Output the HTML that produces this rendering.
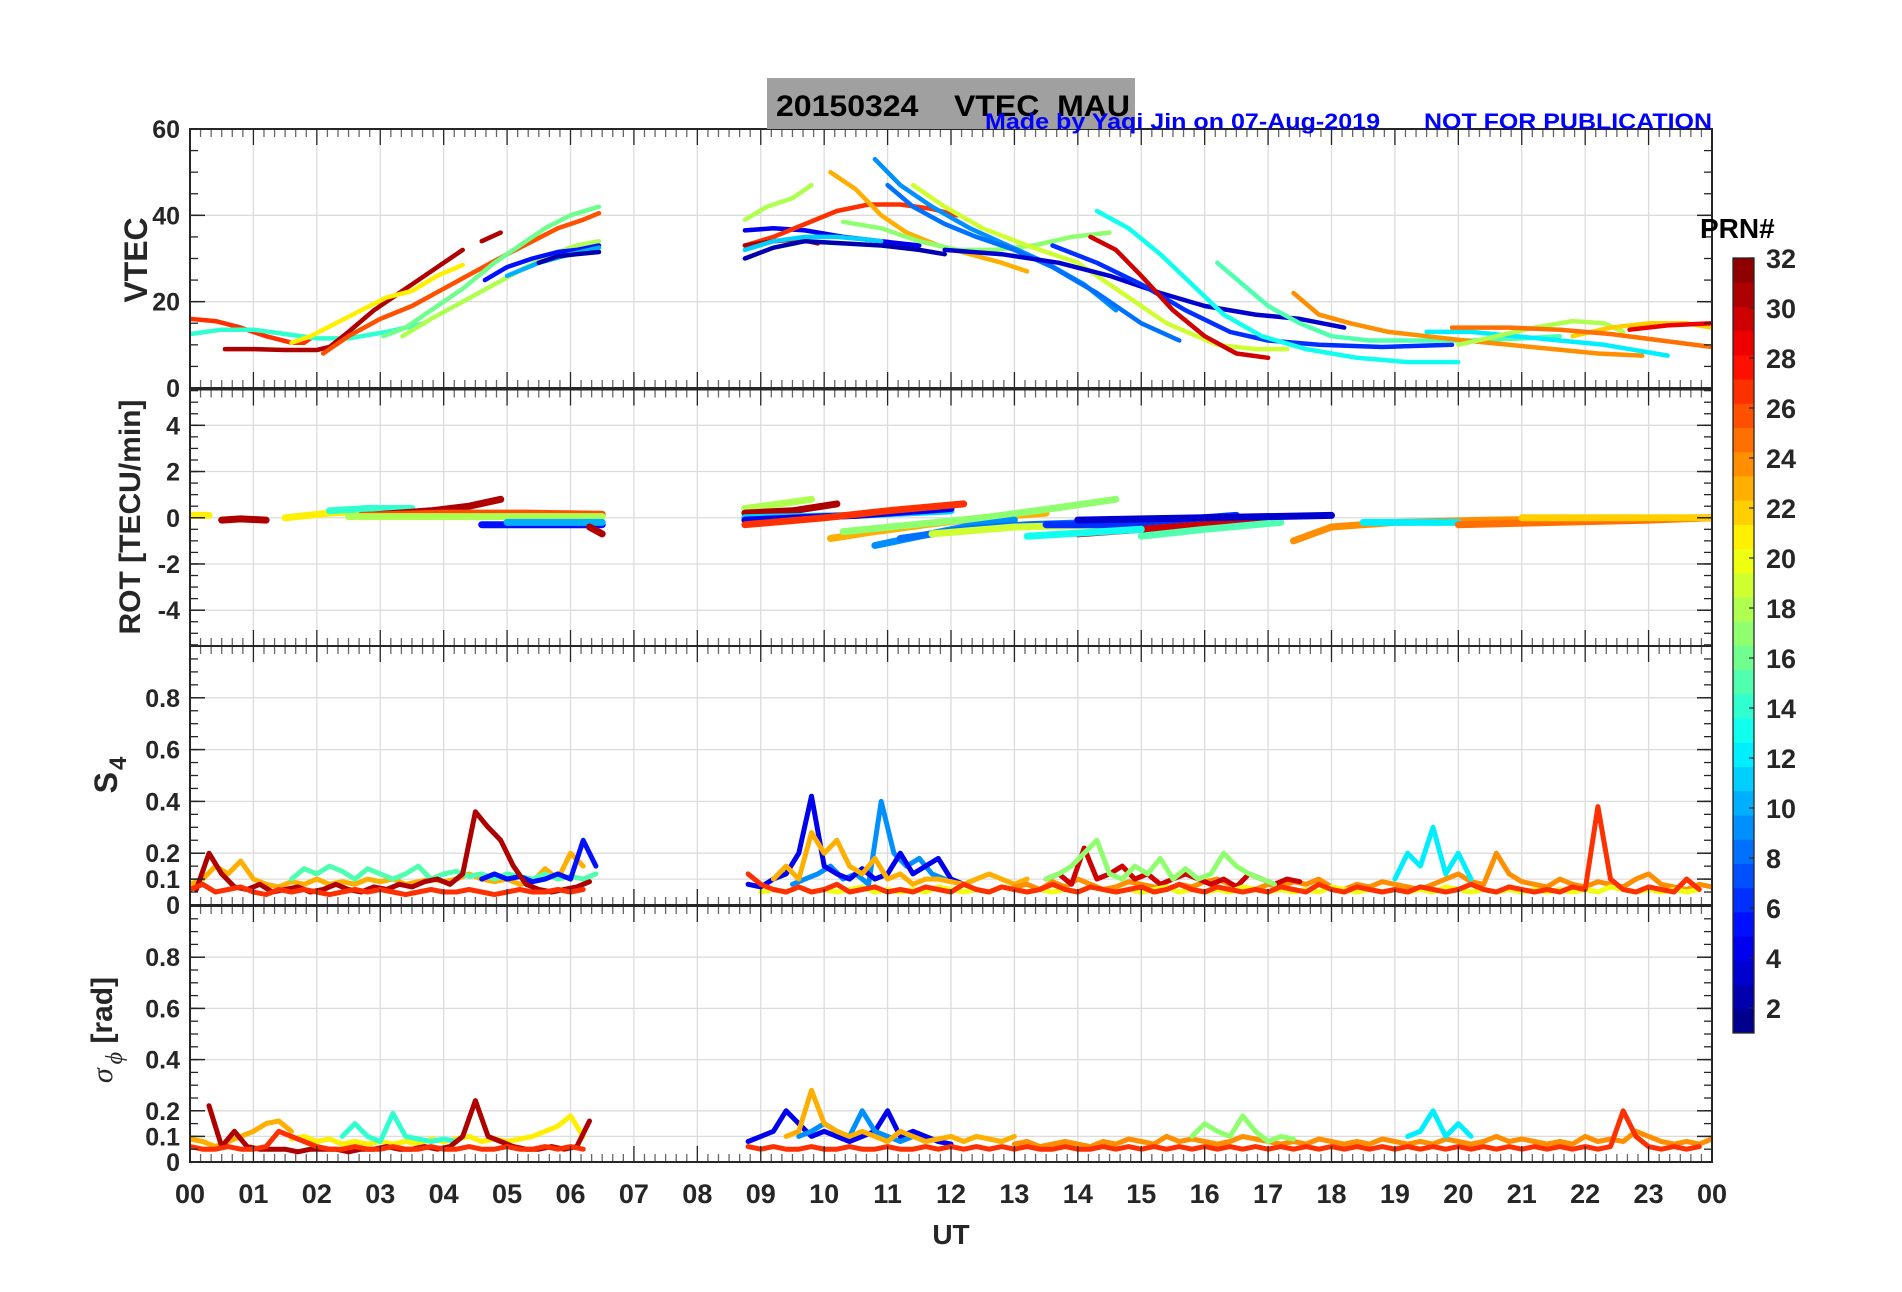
<!DOCTYPE html>
<html><head><meta charset="utf-8">
<style>
html,body{margin:0;padding:0;background:#fff;}
svg{display:block;font-family:"Liberation Sans",Arial,sans-serif;}
</style></head>
<body>
<svg id="chart" width="1902" height="1292" viewBox="0 0 1902 1292" xmlns="http://www.w3.org/2000/svg">
<rect x="0" y="0" width="1902" height="1292" fill="#fff"/>
<g id="grid"></g>
<g id="data"></g>
<g id="axes"></g>
<rect x="767" y="78" width="368" height="51" fill="#a0a0a0"/>
<text x="776" y="116" font-size="30" font-weight="bold" fill="#000" style="white-space:pre" xml:space="preserve" textLength="354" lengthAdjust="spacingAndGlyphs">20150324    VTEC  MAU</text>
<text x="985" y="129" font-size="22" font-weight="bold" fill="#0000ff" textLength="395" lengthAdjust="spacingAndGlyphs">Made by Yaqi Jin on 07-Aug-2019</text>
<text x="1424" y="129" font-size="22" font-weight="bold" fill="#0000ff" textLength="288" lengthAdjust="spacingAndGlyphs">NOT FOR PUBLICATION</text>
<text x="147" y="260" font-size="32" font-weight="bold" fill="#262626" text-anchor="middle" transform="rotate(-90 147 260)">VTEC</text>
<text x="140" y="517" font-size="30" font-weight="bold" fill="#262626" text-anchor="middle" transform="rotate(-90 140 517)">ROT [TECU/min]</text>
<text x="117" y="775" font-size="32" font-weight="bold" fill="#262626" text-anchor="middle" transform="rotate(-90 117 775)">S<tspan font-size="24" dy="9" dx="2">4</tspan></text>
<text x="112" y="1030" font-size="30" font-weight="bold" fill="#262626" text-anchor="middle" transform="rotate(-90 112 1030)"><tspan font-family="Liberation Serif" font-style="italic" font-weight="normal">σ</tspan><tspan font-size="24" dy="10" dx="4" font-family="Liberation Serif" font-style="italic" font-weight="normal">ϕ</tspan><tspan dy="-10"> [rad]</tspan></text>
<text x="951" y="1244" font-size="28" font-weight="bold" fill="#262626" text-anchor="middle">UT</text>
<g id="cbar"></g>
<text x="1700" y="238" font-size="28" font-weight="bold" fill="#000">PRN#</text>
</svg>
<script>
// ---------- data ----------
const vtecPrn = [27,14,31,31,21,26,16,18,5,10,2, 18,4,27,31,11,2,23,17,9,8,19,3,6,30,13,15,24,12,18,22,25,29];
const vtecTimes = [
 [0,0.4,0.8,1.2,1.6,1.8,1.9],
 [0,0.5,1.0,1.5,2.0,2.5,3.1,3.7],
 [0.55,1.0,1.5,2.0,2.2,2.5,2.9,3.3,3.7,4.1,4.3],
 [4.6,4.9],
 [1.6,1.9,2.3,2.7,3.1,3.5,3.9,4.3],
 [2.1,2.5,3.0,3.5,4.0,4.5,5.0,5.4,5.8,6.2,6.45],
 [3.05,3.4,3.9,4.3,4.8,5.2,5.6,6.0,6.45],
 [3.35,3.8,4.3,4.8,5.3,5.7,6.1,6.45],
 [4.65,5.0,5.4,5.8,6.1,6.45],
 [5.0,5.5,6.0,6.45],
 [5.5,5.8,6.1,6.45],
 [8.75,9.1,9.5,9.8],
 [8.75,9.2,9.7,10.3,10.9,11.5],
 [8.75,9.2,9.7,10.2,10.7,11.2,11.7,12.1],
 [8.75,9.2,9.6,9.9],
 [8.75,9.2,9.7,10.2,10.6,10.9],
 [8.75,9.2,9.7,10.3,10.9,11.5,11.9],
 [10.1,10.5,10.9,11.3,11.8,12.3,12.8,13.2],
 [10.3,10.9,11.5,12.1,12.7,13.3,13.9,14.5],
 [10.8,11.2,11.7,12.3,12.9,13.5,14.1,14.6],
 [11.0,11.4,11.9,12.4,13.0,13.6,14.3,15.0,15.6],
 [11.4,11.9,12.5,13.2,14.0,14.7,15.4,16.2,16.8,17.3],
 [11.9,12.8,13.7,14.5,15.3,16.0,16.8,17.5,18.2],
 [13.6,14.3,15.0,15.7,16.4,17.0,17.8,18.8,19.9],
 [14.2,14.6,15.0,15.5,16.0,16.5,17.0],
 [14.3,14.8,15.3,15.8,16.3,16.9,17.6,18.4,19.2,20.0],
 [16.2,16.6,17.0,17.5,18.0,18.6,19.4,20.2,21.0,21.6],
 [17.4,17.8,18.3,18.9,19.5,20.1,20.8,21.5,22.2,22.9],
 [19.5,20.2,20.9,21.6,22.3,22.9,23.3],
 [20.0,20.6,21.2,21.8,22.3,22.6],
 [21.8,22.4,23.0,23.6,24.0],
 [19.9,20.8,21.6,22.4,23.2,24.0],
 [22.7,23.3,24.0]
];
const vtecValues = [
 [16,15.5,14,12,10.5,10.5,11.5],
 [12.5,13.5,13.5,12.5,11.5,11.5,13,15],
 [9,9,8.8,8.8,9.5,13,18,22,26,30,32],
 [34,36],
 [10.5,12,15,18,21,22.5,26,28.5],
 [8,12,16,19,23,27,31,34,37,39,40.5],
 [12,14,19,23,29,33,37,40,42],
 [12,16,20,24,28,31,33,34],
 [25,28,30,31.5,32,33],
 [26,29,31,32.5],
 [29,30.5,31,31.5],
 [39,42,44,47],
 [36.5,37,36.5,35,34,33],
 [33,35,38,41,42.5,42.5,41.5,40],
 [33,34,34.5,33.5],
 [32,34,35,35,34.5,34],
 [30,32.5,34,33.5,33,32,31],
 [50,46,40,36,33,31,29,27],
 [38.5,37,34,32,32,33,35,36],
 [53,47,42,37,33,29,24,18],
 [47,42,38,35,32,28,22,15,11],
 [47,42,37,33,29,22,15,10,9,9],
 [32,31,29,26,22,19,17,16,14],
 [33,29,24,18,13,11,10,9.5,10],
 [35,32,26,18,12,8,7],
 [41,37,31,24,17,12,9,7,6,6],
 [29,24,19,15,12,11,11,11,11.5,12],
 [22,17,15,13,12,11,10,9,8,7.5],
 [13,13,12,11,10,8.5,7.5],
 [10,12,14,15.5,15,13],
 [12,14,15,15,14],
 [14,14,13.5,12.5,11,9.5],
 [13.5,14.5,15]
];
const rotPrn = [21,31,21,14,31,26,18,5,10,31, 18,31,11,4,27,23,17,9,8,19,6,30,13,15,24,12,25,22,3];
const rotTimes = [
 [0,0.3],[0.5,0.8,1.2],[1.5,2.2,3.0],[2.2,2.8,3.5],[2.8,3.8,4.4,4.9],[2.7,4.0,5.3,6.5],[2.5,4.5,6.5],[4.6,5.5,6.5],[5.0,6.5],[6.3,6.5],
 [8.75,9.3,9.8],[8.75,9.5,10.2],[8.75,10.5,12],[8.75,10.5,12],[8.75,10,11,12.2],[10.1,10.8,11.6,12.5,13.5],[10.3,11.4,12.5,13.6,14.6],[10.8,11.5,12.2,13],[11.2,12.2,13.2,14.3,15.5],[11.7,13,14.5,16],[13.5,14.5,15.5,16.5],[14,15,16,17],[13.2,15],[15,16,17.2],[17.4,18,19,20.5,22,24],[18.5,20],[20,21.5,23,24],[21,24],[14,16,18]
];
const rotValues = [
 [0.1,0.1],[-0.1,-0.05,-0.1],[0,0.2,0.3],[0.3,0.4,0.4],[0.1,0.3,0.5,0.8],[0.1,0.2,0.2,0.15],[0.05,0.05,0.05],[-0.3,-0.3,-0.3],[-0.2,-0.2],[-0.4,-0.7],
 [0.4,0.6,0.8],[0.2,0.3,0.6],[0,0.1,0.3],[-0.1,0.1,0.4],[-0.3,0,0.3,0.6],[-0.9,-0.6,-0.3,0,0.2],[-0.6,-0.3,0,0.4,0.8],[-1.2,-0.8,-0.4,-0.1],[-0.9,-0.5,-0.3,-0.2,-0.1],[-0.7,-0.4,-0.3,-0.2],[-0.3,-0.3,-0.1,0.1],[-0.7,-0.5,-0.3,-0.1],[-0.8,-0.5],[-0.8,-0.5,-0.2],[-1.0,-0.4,-0.2,-0.1,-0.05,0],[-0.2,-0.2],[-0.3,-0.2,-0.1,0],[0,0],[-0.1,0,0.1]
];
const SCINT_DT = 0.2;
const s4Prn = [23,15,5,31,27, 9,4,23,24,30,17,12,20,27];
const s4Start = [0.0,1.6,4.6,0.1,0.0, 9.5,8.8,9.2,13.0,13.5,13.5,19.0,9.0,8.8];
const s4Values = [
 [0.08,0.1,0.15,0.12,0.17,0.1,0.08,0.07,0.09,0.08,0.1,0.08,0.09,0.08,0.1,0.09,0.1,0.08,0.09,0.1,0.09,0.1,0.12,0.1,0.09,0.1,0.08,0.09,0.14,0.1,0.2,0.15],
 [0.1,0.14,0.12,0.15,0.13,0.1,0.14,0.12,0.1,0.12,0.15,0.1,0.12,0.13,0.11,0.12,0.1,0.12,0.11,0.1,0.12,0.1,0.11,0.1,0.12],
 [0.1,0.12,0.1,0.11,0.09,0.1,0.12,0.1,0.25,0.15],
 [0.06,0.2,0.12,0.07,0.06,0.08,0.05,0.06,0.07,0.05,0.06,0.08,0.06,0.05,0.07,0.06,0.08,0.07,0.09,0.1,0.08,0.12,0.36,0.3,0.25,0.15,0.08,0.06,0.05,0.06,0.07,0.09],
 [0.06,0.08,0.05,0.06,0.07,0.05,0.04,0.06,0.05,0.06,0.05,0.04,0.05,0.06,0.05,0.06,0.05,0.04,0.05,0.06,0.05,0.05,0.06,0.05,0.04,0.05,0.06,0.05,0.05,0.06,0.05,0.06],
 [0.08,0.1,0.12,0.15,0.1,0.12,0.08,0.4,0.2,0.15,0.18,0.12,0.1],
 [0.08,0.07,0.1,0.12,0.2,0.42,0.15,0.12,0.1,0.14,0.1,0.12,0.2,0.12,0.15,0.18,0.1,0.08],
 [0.1,0.15,0.1,0.28,0.2,0.25,0.15,0.12,0.18,0.1,0.12,0.08,0.1,0.1,0.09,0.08,0.1,0.12,0.1,0.08,0.1],
 [0.07,0.08,0.06,0.09,0.07,0.1,0.08,0.06,0.07,0.09,0.08,0.07,0.06,0.08,0.07,0.09,0.1,0.08,0.07,0.06,0.08,0.07,0.09,0.08,0.1,0.07,0.06,0.08,0.07,0.09,0.08,0.07,0.06,0.08,0.1,0.12,0.09,0.08,0.2,0.12,0.09,0.08,0.07,0.1,0.08,0.07,0.09,0.08,0.07,0.1,0.12,0.08,0.07,0.06,0.08,0.07],
 [0.1,0.12,0.08,0.22,0.1,0.12,0.15,0.1,0.12,0.08,0.1,0.12,0.1,0.08,0.1,0.07,0.12,0.1,0.08,0.1,0.09],
 [0.1,0.12,0.15,0.2,0.25,0.12,0.1,0.15,0.12,0.18,0.1,0.14,0.1,0.12,0.2,0.15,0.12,0.1,0.08],
 [0.1,0.2,0.15,0.3,0.12,0.2,0.1],
 [0.05,0.06,0.05,0.07,0.05,0.06,0.05,0.06,0.07,0.05,0.06,0.05,0.06,0.05,0.07,0.06,0.05,0.06,0.05,0.07,0.06,0.05,0.06,0.05,0.06,0.05,0.07,0.06,0.05,0.06,0.05,0.06,0.07,0.05,0.06,0.05,0.06,0.05,0.07,0.06,0.05,0.06,0.05,0.06,0.05,0.07,0.06,0.05,0.06,0.05,0.06,0.05,0.06,0.05,0.07,0.06,0.05,0.06,0.05,0.06,0.05,0.06,0.05,0.06,0.05,0.06,0.05,0.07,0.06,0.05,0.06,0.05,0.06,0.05,0.06],
 [0.12,0.08,0.06,0.05,0.07,0.05,0.06,0.08,0.05,0.06,0.07,0.05,0.06,0.05,0.07,0.06,0.05,0.08,0.06,0.05,0.07,0.06,0.05,0.06,0.08,0.06,0.05,0.07,0.06,0.05,0.06,0.07,0.05,0.06,0.08,0.06,0.05,0.07,0.06,0.05,0.06,0.05,0.07,0.06,0.05,0.08,0.06,0.05,0.07,0.06,0.05,0.06,0.05,0.07,0.06,0.05,0.06,0.08,0.06,0.05,0.07,0.06,0.05,0.06,0.05,0.07,0.06,0.38,0.1,0.06,0.05,0.07,0.06,0.05,0.1,0.06]
];
const sigPrn = [23,21,14,31,27, 4,9,23,24,17,12,27];
const sigStart = [0.0,1.6,2.4,0.3,0.0, 8.8,9.6,9.4,13.0,15.8,19.2,8.8];
const sigValues = [
 [0.09,0.08,0.06,0.08,0.1,0.12,0.15,0.16,0.12],
 [0.09,0.1,0.08,0.09,0.07,0.08,0.07,0.08,0.07,0.08,0.07,0.09,0.08,0.09,0.1,0.08,0.09,0.08,0.09,0.1,0.12,0.14,0.18,0.1],
 [0.1,0.15,0.1,0.08,0.19,0.1,0.09,0.08,0.09,0.08],
 [0.22,0.06,0.12,0.06,0.05,0.05,0.05,0.04,0.05,0.05,0.05,0.04,0.05,0.05,0.06,0.05,0.05,0.06,0.05,0.06,0.1,0.24,0.1,0.08,0.06,0.05,0.05,0.06,0.05,0.06,0.16],
 [0.06,0.05,0.05,0.06,0.05,0.05,0.06,0.12,0.1,0.08,0.06,0.05,0.05,0.06,0.05,0.05,0.06,0.05,0.05,0.06,0.05,0.05,0.06,0.05,0.05,0.06,0.05,0.05,0.06,0.05,0.06,0.05],
 [0.08,0.1,0.12,0.2,0.15,0.1,0.12,0.1,0.08,0.1,0.12,0.2,0.1,0.12,0.1,0.08,0.07],
 [0.1,0.12,0.15,0.12,0.1,0.2,0.12,0.1,0.08,0.1],
 [0.1,0.12,0.28,0.15,0.12,0.1,0.12,0.1,0.08,0.12,0.1,0.08,0.09,0.1,0.08,0.1,0.09,0.08,0.1],
 [0.07,0.08,0.06,0.07,0.08,0.07,0.06,0.08,0.07,0.09,0.08,0.07,0.1,0.08,0.09,0.08,0.07,0.08,0.1,0.09,0.08,0.07,0.08,0.07,0.09,0.08,0.07,0.08,0.07,0.09,0.08,0.07,0.08,0.07,0.09,0.08,0.07,0.08,0.1,0.08,0.09,0.08,0.07,0.08,0.07,0.1,0.08,0.09,0.08,0.12,0.1,0.08,0.07,0.08,0.07,0.09],
 [0.1,0.15,0.12,0.1,0.18,0.12,0.08,0.1,0.09],
 [0.1,0.12,0.2,0.1,0.15,0.1],
 [0.06,0.05,0.06,0.05,0.05,0.06,0.05,0.05,0.06,0.05,0.05,0.06,0.05,0.05,0.06,0.05,0.06,0.05,0.06,0.05,0.06,0.05,0.06,0.05,0.05,0.06,0.05,0.05,0.06,0.05,0.06,0.05,0.06,0.05,0.06,0.05,0.06,0.05,0.06,0.05,0.06,0.05,0.06,0.05,0.06,0.05,0.06,0.05,0.06,0.05,0.06,0.05,0.06,0.05,0.06,0.05,0.06,0.05,0.06,0.05,0.06,0.05,0.06,0.05,0.06,0.05,0.06,0.05,0.06,0.2,0.1,0.06,0.05,0.06,0.05,0.06]
];
const xTickLabels = ['00','01','02','03','04','05','06','07','08','09','10','11','12','13','14','15','16','17','18','19','20','21','22','23','00'];
const cbarTickLabels = [2,4,6,8,10,12,14,16,18,20,22,24,26,28,30,32];

// ---------- layout ----------
const NS = 'http://www.w3.org/2000/svg';
const L = 190, R = 1712;
const panels = [
 {name:'vtec', top:129, bot:388, min:0, max:60, major:[0,20,40,60], labels:['0','20','40','60'], minorStep:5},
 {name:'rot', top:389.5, bot:646, min:-5.55, max:5.55, major:[-4,-2,0,2,4], labels:['-4','-2','0','2','4'], minorStep:0.5},
 {name:'s4', top:646, bot:905, min:0, max:1, major:[0,0.1,0.2,0.4,0.6,0.8], labels:['0','0.1','0.2','0.4','0.6','0.8'], minorStep:0.05},
 {name:'sigma', top:906, bot:1162, min:0, max:1, major:[0,0.1,0.2,0.4,0.6,0.8], labels:['0','0.1','0.2','0.4','0.6','0.8'], minorStep:0.05}
];
function xs(t){ return L + t/24*(R-L); }
function ys(p,v){ return p.bot - (v-p.min)/(p.max-p.min)*(p.bot-p.top); }
function jet(prn){
 const v=(prn-0.5)/32;
 const c=x=>Math.round(255*Math.max(0,Math.min(1,x)));
 return `rgb(${c(1.5-Math.abs(4*v-3))},${c(1.5-Math.abs(4*v-2))},${c(1.5-Math.abs(4*v-1))})`;
}
function mk(tag, attrs, parent){
 const e=document.createElementNS(NS,tag);
 for(const k in attrs) e.setAttribute(k,attrs[k]);
 parent.appendChild(e); return e;
}
const gGrid=document.getElementById('grid'), gData=document.getElementById('data'), gAxes=document.getElementById('axes'), gCbar=document.getElementById('cbar');

const defs=mk('defs',{},document.getElementById('chart'));
panels.forEach((p,i)=>{
 const cp=mk('clipPath',{id:'clip'+i},defs);
 mk('rect',{x:L,y:p.top,width:R-L,height:p.bot-p.top},cp);
});

panels.forEach((p,i)=>{
 for(let h=1;h<24;h++){
  const l=mk('line',{x1:xs(h),x2:xs(h),y1:p.top,y2:p.bot,stroke:'#dcdcdc','stroke-width':1.3},gGrid);
  
  
 }
 p.major.forEach((v,j)=>{
  const y=ys(p,v);
  if(v>p.min && v<p.max){
   const g=mk('line',{x1:L,x2:R,y1:y,y2:y,stroke:'#dcdcdc','stroke-width':1.3},gGrid);
   
   
  }
  mk('line',{x1:L,x2:L+15,y1:y,y2:y,stroke:'#262626','stroke-width':1.5},gAxes);
  mk('line',{x1:R,x2:R-15,y1:y,y2:y,stroke:'#262626','stroke-width':1.5},gAxes);
  const t=mk('text',{x:180,y:y+9,'font-size':25,'font-weight':'bold',fill:'#262626','text-anchor':'end'},gAxes);
  t.textContent=p.labels[j];
  
  
 });
 for(let v=Math.ceil(p.min/p.minorStep)*p.minorStep; v<=p.max; v+=p.minorStep){
  const y=ys(p,v);
  mk('line',{x1:L,x2:L+8,y1:y,y2:y,stroke:'#262626','stroke-width':1.3},gAxes);
  mk('line',{x1:R,x2:R-8,y1:y,y2:y,stroke:'#262626','stroke-width':1.3},gAxes);
 }
 for(let m=0;m<=144;m++){
  const x=xs(m/6), major=(m%6===0), len=major?16:8;
  const col=major?'#262626':'#666';
  mk('line',{x1:x,x2:x,y1:p.bot,y2:p.bot-len,stroke:col,'stroke-width':1.3},gAxes);
  mk('line',{x1:x,x2:x,y1:p.top,y2:p.top+len,stroke:col,'stroke-width':1.3},gAxes);
 }
 const box=mk('rect',{x:L,y:p.top,width:R-L,height:p.bot-p.top,fill:'none',stroke:'#262626','stroke-width':2},gAxes);
 
 
});
xTickLabels.forEach((lab,h)=>{
 const t=mk('text',{x:xs(h),y:1203,'font-size':27,'font-weight':'bold',fill:'#262626','text-anchor':'middle'},gAxes);
 t.textContent=lab;
 
 
});

function poly(pi, ts, vs, prn, w, name){
 const p=panels[pi];
 const pts=ts.map((t,k)=>xs(t).toFixed(1)+','+ys(p,vs[k]).toFixed(1)).join(' ');
 const e=mk('polyline',{points:pts,fill:'none',stroke:jet(prn),'stroke-width':w,'stroke-linejoin':'round','stroke-linecap':'round','clip-path':`url(#clip${pi})`},gData);
 
 
}
vtecPrn.forEach((prn,i)=>poly(0,vtecTimes[i],vtecValues[i],prn,4.5,'vtec-trace-prn'+prn));
rotPrn.forEach((prn,i)=>poly(1,rotTimes[i],rotValues[i],prn,7,'rot-trace-prn'+prn));
s4Prn.forEach((prn,i)=>{
 const ts=s4Values[i].map((_,k)=>s4Start[i]+k*SCINT_DT);
 poly(2,ts,s4Values[i],prn,5,'s4-trace-prn'+prn);
});
sigPrn.forEach((prn,i)=>{
 const ts=sigValues[i].map((_,k)=>sigStart[i]+k*SCINT_DT);
 poly(3,ts,sigValues[i],prn,5,'sigma-trace-prn'+prn);
});

const cbT=258, cbB=1033, cbL=1733, cbW=21;
for(let k=1;k<=32;k++){
 const h=(cbB-cbT)/32;
 const r=mk('rect',{x:cbL,y:cbB-k*h,width:cbW,height:h+0.5,fill:jet(k)},gCbar);
 
 
}
mk('rect',{x:cbL,y:cbT,width:cbW,height:cbB-cbT,fill:'none',stroke:'#262626','stroke-width':1.3},gCbar);
cbarTickLabels.forEach(v=>{
 const y=cbB-(v-1)/31*(cbB-cbT);
 mk('line',{x1:cbL+cbW-5,x2:cbL+cbW,y1:y,y2:y,stroke:'#262626','stroke-width':1.2},gCbar);
 const t=mk('text',{x:1766,y:y+10,'font-size':27,'font-weight':'bold',fill:'#262626'},gCbar);
 t.textContent=v;
 
 
});
</script>
</body></html>
